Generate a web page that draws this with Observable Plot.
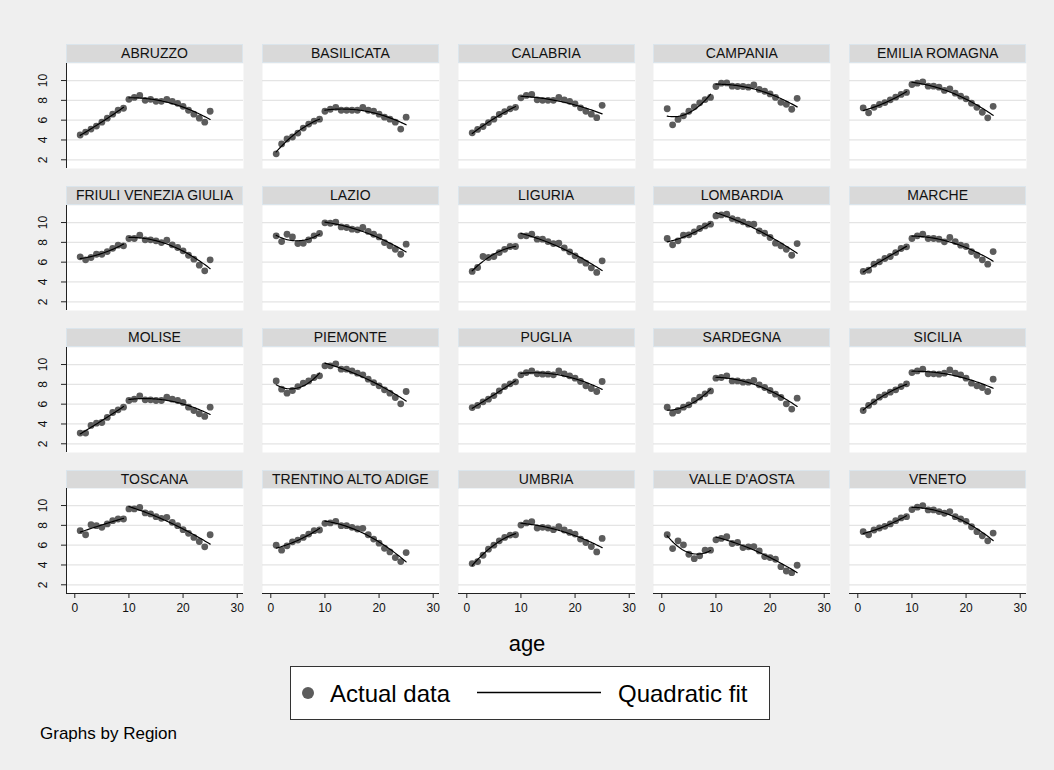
<!DOCTYPE html>
<html><head><meta charset="utf-8">
<script src="https://cdn.jsdelivr.net/npm/d3@7"></script>
<script src="https://cdn.jsdelivr.net/npm/@observablehq/plot@0.6"></script>
<style>
body{margin:0;background:#efefef;font-family:"Liberation Sans",Arial,sans-serif;}
#chart{position:relative;width:1054px;height:770px;background:#efefef;overflow:hidden}
.hdr{position:absolute;height:19px;background:#d9d9d9;border:1px solid #dbe5ec;box-sizing:border-box;text-align:center;font-size:14px;line-height:17px;color:#111;white-space:nowrap}
.panel{position:absolute}
#xtitle{position:absolute;left:0;width:1054px;top:631px;text-align:center;font-size:22px;color:#000}
#legend{position:absolute;left:290px;top:666px;width:480px;height:54px;box-sizing:border-box;background:#fff;border:1px solid #333}
#note{position:absolute;left:40px;top:724px;font-size:17px;color:#000}
</style></head><body><div id="chart"></div><script>
const ages = [1,2,3,4,5,6,7,8,9,10,11,12,13,14,15,16,17,18,19,20,21,22,23,24,25];
const regionNames = ["ABRUZZO","BASILICATA","CALABRIA","CAMPANIA","EMILIA ROMAGNA","FRIULI VENEZIA GIULIA","LAZIO","LIGURIA","LOMBARDIA","MARCHE","MOLISE","PIEMONTE","PUGLIA","SARDEGNA","SICILIA","TOSCANA","TRENTINO ALTO ADIGE","UMBRIA","VALLE D'AOSTA","VENETO"];
const abruzzo = [4.5,4.8,5.1,5.4,5.8,6.2,6.6,7.0,7.2,8.1,8.3,8.5,8.0,8.1,7.9,7.9,8.1,7.9,7.7,7.4,7.0,6.6,6.2,5.8,6.9];
const basilicata = [2.6,3.6,4.1,4.3,4.7,5.2,5.6,5.9,6.1,6.9,7.1,7.3,7.0,7.0,7.0,7.0,7.3,7.0,6.9,6.6,6.3,6.1,5.8,5.1,6.3];
const calabria = [4.72,5.06,5.36,5.76,6.1,6.57,6.87,7.14,7.3,8.25,8.5,8.6,8.05,8.0,8.0,8.0,8.3,8.05,7.9,7.65,7.25,6.9,6.6,6.25,7.5];
const campania = [7.15,5.53,6.07,6.44,6.9,7.35,7.75,8.08,8.3,9.4,9.73,9.76,9.43,9.4,9.4,9.33,9.56,9.1,8.92,8.65,8.3,7.8,7.6,7.1,8.2];
const emiliaRomagna = [7.24,6.74,7.3,7.58,7.78,8.05,8.32,8.6,8.8,9.6,9.73,9.87,9.43,9.43,9.33,9.0,9.16,8.72,8.42,8.15,7.71,7.3,6.8,6.24,7.4];
const friuli = [6.54,6.24,6.47,6.8,6.8,7.07,7.4,7.71,7.65,8.39,8.39,8.72,8.25,8.25,8.15,7.98,8.22,7.75,7.48,7.14,6.7,6.3,5.7,5.13,6.24];
const lazio = [8.66,8.08,8.82,8.55,7.88,7.91,8.25,8.66,8.9,9.97,9.93,10.03,9.56,9.5,9.33,9.26,9.5,9.1,8.82,8.55,7.98,7.65,7.3,6.8,7.82];
const liguria = [5.06,5.46,6.57,6.47,6.57,6.97,7.3,7.58,7.58,8.66,8.66,8.82,8.32,8.32,8.08,7.88,7.91,7.44,7.04,6.64,6.2,5.9,5.43,4.96,6.13];
const lombardia = [8.39,7.75,8.15,8.72,8.76,9.06,9.4,9.66,9.83,10.67,10.77,10.84,10.4,10.24,10.07,9.83,9.83,9.16,8.92,8.49,7.92,7.65,7.3,6.7,7.88];
const marche = [5.06,5.19,5.8,6.03,6.37,6.57,6.97,7.38,7.55,8.39,8.66,8.82,8.39,8.39,8.32,8.05,8.49,8.08,7.71,7.58,7.07,6.7,6.24,5.8,7.07];
const molise = [3.08,3.08,3.85,4.08,4.15,4.66,5.16,5.43,5.7,6.37,6.5,6.84,6.44,6.44,6.37,6.37,6.71,6.5,6.37,6.17,5.7,5.36,5.03,4.76,5.7];
const piemonte = [8.35,7.51,7.11,7.38,7.78,8.12,8.35,8.69,8.86,9.87,9.87,10.07,9.53,9.53,9.36,9.13,8.96,8.52,8.18,7.85,7.45,7.11,6.67,6.03,7.28];
const puglia = [5.66,5.87,6.24,6.5,6.87,7.34,7.78,8.05,8.25,8.96,9.19,9.36,9.06,9.03,9.03,8.96,9.36,9.06,8.86,8.62,8.29,7.85,7.58,7.28,8.29];
const sardegna = [5.7,5.09,5.36,5.7,5.93,6.37,6.71,7.04,7.34,8.62,8.69,8.86,8.35,8.35,8.22,8.22,8.39,7.95,7.68,7.38,7.01,6.67,6.03,5.5,6.6];
const sicilia = [5.36,5.87,6.24,6.71,6.94,7.21,7.45,7.78,8.05,9.19,9.36,9.53,9.06,9.06,9.03,9.13,9.46,9.13,8.96,8.62,8.12,7.85,7.68,7.28,8.52];
const toscana = [7.46,7.05,8.07,7.97,7.8,8.14,8.47,8.64,8.64,9.66,9.66,9.8,9.25,9.15,8.88,8.71,8.81,8.31,7.97,7.56,7.19,6.78,6.37,5.83,7.05];
const trentino = [6.0,5.49,5.93,6.34,6.51,6.78,7.12,7.46,7.53,8.2,8.24,8.41,7.97,7.97,7.8,7.63,7.7,7.05,6.61,6.2,5.69,5.32,4.75,4.34,5.25];
const umbria = [4.14,4.34,4.98,5.59,6.0,6.44,6.78,7.02,7.05,8.03,8.24,8.37,7.73,7.8,7.73,7.56,7.86,7.53,7.29,7.12,6.61,6.27,5.86,5.32,6.68];
const valleAosta = [7.05,5.66,6.44,6.03,5.08,4.64,4.92,5.49,5.49,6.54,6.68,6.85,6.17,6.27,5.76,5.83,5.86,5.42,4.85,4.75,4.58,3.83,3.39,3.22,3.97];
const veneto = [7.36,7.05,7.53,7.73,7.9,8.14,8.47,8.75,8.88,9.59,9.83,10.0,9.56,9.56,9.39,9.22,9.39,8.88,8.64,8.41,7.86,7.36,6.95,6.44,7.22];
const regionValues = [abruzzo,basilicata,calabria,campania,emiliaRomagna,friuli,lazio,liguria,lombardia,marche,molise,piemonte,puglia,sardegna,sicilia,toscana,trentino,umbria,valleAosta,veneto];
const yTicks = [2,4,6,8,10];
const xTicks = [0,10,20,30];
const legendLabels = ["Actual data","Quadratic fit"];

// least-squares quadratic fit of a segment
function quadFit(xs, ys) {
  let S = Array(5).fill(0), T = [0,0,0];
  xs.forEach((x,i) => { for (let k=0;k<5;k++) S[k]+=x**k; for (let k=0;k<3;k++) T[k]+=ys[i]*x**k; });
  const A = [[S[0],S[1],S[2],T[0]],[S[1],S[2],S[3],T[1]],[S[2],S[3],S[4],T[2]]];
  for (let c=0;c<3;c++){ let p=c; for(let r=c+1;r<3;r++) if(Math.abs(A[r][c])>Math.abs(A[p][c])) p=r; [A[c],A[p]]=[A[p],A[c]];
    for(let r=0;r<3;r++){ if(r===c) continue; const f=A[r][c]/A[c][c]; for(let k=c;k<4;k++) A[r][k]-=f*A[c][k]; } }
  const b = [A[0][3]/A[0][0],A[1][3]/A[1][1],A[2][3]/A[2][2]];
  return x => b[0]+b[1]*x+b[2]*x*x;
}
function fitSegment(vals, lo, hi, seg) {
  const xs = ages.filter(a => a>=lo && a<=hi), ys = xs.map(a => vals[a-1]);
  const f = quadFit(xs, ys);
  const out = [];
  for (let x = lo; x <= hi + 1e-9; x += 0.25) out.push({age: x, fit: f(x), seg});
  return out;
}

const chart = document.getElementById("chart");
const colLeft = [66, 261.8, 457.6, 653.4, 849.2];
const rowTop = [44, 185.9, 327.8, 469.7];
const W = 177, H = 105, HDR = 18.7;
const xDom = [-1.53, 31.16], yDom = [1.12, 11.72];
const ML = 45, MB = 30;

regionNames.forEach((name, i) => {
  const c = i % 5, r = Math.floor(i / 5);
  const vals = regionValues[i];
  const pts = ages.map((a, k) => ({age: a, v: vals[k]}));
  const fit = fitSegment(vals, 1, 9, "a").concat(fitSegment(vals, 10, 25, "b"));
  const hdr = document.createElement("div");
  hdr.className = "hdr"; hdr.textContent = name;
  hdr.style.left = colLeft[c] + "px"; hdr.style.top = rowTop[r] + "px"; hdr.style.width = W + "px";
  chart.appendChild(hdr);
  const marks = [
    Plot.frame({fill: "white", stroke: null}),
    Plot.ruleY(yTicks, {stroke: "#e4e4e4", strokeWidth: 1.3}),
    Plot.dot(pts, {x: "age", y: "v", r: 3.4, fill: "#5c5c5c", stroke: null}),
    Plot.line(fit, {x: "age", y: "fit", z: "seg", stroke: "#000", strokeWidth: 1.2})
  ];
  if (c === 0) {
    marks.push(Plot.ruleX([xDom[0]], {stroke: "#222", strokeWidth: 1}));
    marks.push(Plot.axisY({ticks: yTicks, tickSize: 5, tickFormat: () => "", stroke: "#222"}));
    marks.push(Plot.text(yTicks, {y: d => d, text: d => String(d), frameAnchor: "left", dx: -23, rotate: -90, textAnchor: "middle", fontSize: 12, fill: "#111"}));
  }
  if (r === 3) {
    marks.push(Plot.ruleY([yDom[0]], {stroke: "#222", strokeWidth: 1}));
    marks.push(Plot.axisX({ticks: xTicks, tickSize: 5, tickPadding: 5, fontSize: 12, stroke: "#222", label: null}));
  }
  const svg = Plot.plot({
    width: W + ML, height: H + MB,
    marginLeft: ML, marginRight: 0, marginTop: 0, marginBottom: MB,
    x: {domain: xDom, label: null, axis: r === 3 ? undefined : null},
    y: {domain: yDom, label: null, axis: c === 0 ? undefined : null},
    style: {background: "transparent", fontFamily: "Liberation Sans, Arial, sans-serif", fontSize: "12px", color: "#111", overflow: "visible"},
    marks
  });
  svg.classList.add("panel");
  svg.style.position = "absolute";
  svg.style.left = (colLeft[c] - ML) + "px";
  svg.style.top = (rowTop[r] + HDR) + "px";
  chart.appendChild(svg);
});

const xt = document.createElement("div"); xt.id = "xtitle"; xt.textContent = "age"; chart.appendChild(xt);
const lg = document.createElement("div"); lg.id = "legend";
lg.innerHTML = `<svg width="478" height="52" style="position:absolute;left:0;top:0">
<circle cx="17" cy="26" r="6" fill="#5c5c5c"/>
<text x="39" y="34.5" font-size="24" font-family="Liberation Sans, Arial, sans-serif">${legendLabels[0]}</text>
<line x1="186" x2="310" y1="25.5" y2="25.5" stroke="#000" stroke-width="1.3"/>
<text x="327" y="34.5" font-size="24" font-family="Liberation Sans, Arial, sans-serif">${legendLabels[1]}</text></svg>`;
chart.appendChild(lg);
const nt = document.createElement("div"); nt.id = "note"; nt.textContent = "Graphs by Region"; chart.appendChild(nt);
</script></body></html>
